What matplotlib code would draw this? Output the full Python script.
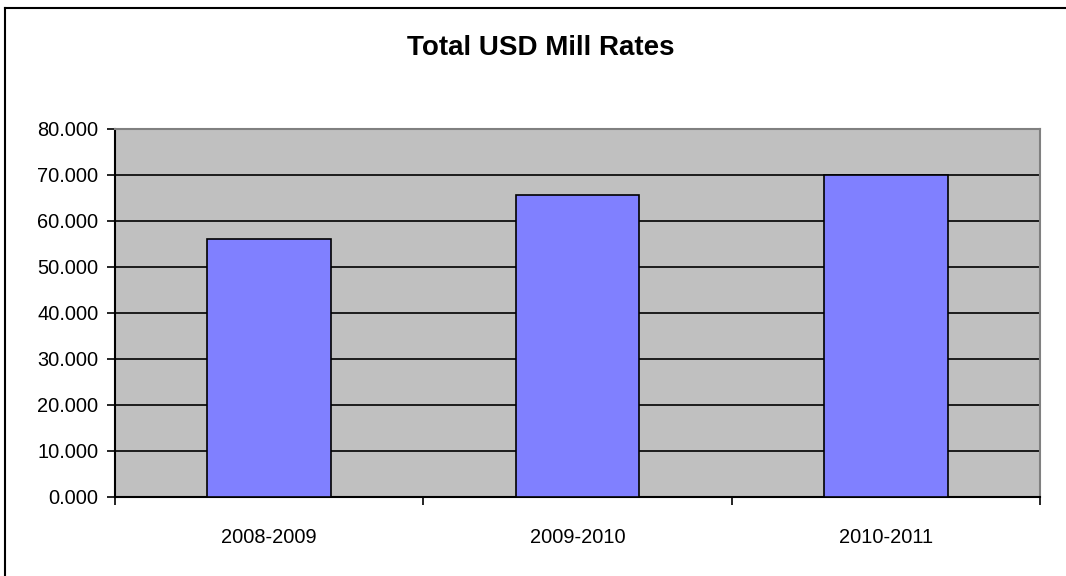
import numpy as np
import matplotlib
matplotlib.use("Agg")
import matplotlib.pyplot as plt
from matplotlib.lines import Line2D

plt.rcParams['font.family'] = ['Liberation Sans', 'DejaVu Sans']

seasons = ['2008-2009', '2009-2010', '2010-2011']
mill_rates = [56.1, 65.6, 70.1]
y_ticks = [0, 10, 20, 30, 40, 50, 60, 70, 80]

fig = plt.figure(figsize=(10.66, 5.76), dpi=100)
fig.patch.set_facecolor('white')

# outer chart border, only left and top edges are inside the picture
bx, by = 4.5 / 1066, 1 - 7.5 / 576
fig.lines.append(Line2D([bx, bx], [0, by], transform=fig.transFigure,
                        color='black', linewidth=1.5))
fig.lines.append(Line2D([bx, 1], [by, by], transform=fig.transFigure,
                        color='black', linewidth=1.5))

ax = fig.add_axes([115 / 1066, 1 - 497 / 576, (1040 - 115) / 1066, (497 - 129) / 576])
ax.set_facecolor('#C0C0C0')

x = np.arange(len(seasons))
ax.bar(x, mill_rates, width=0.4, color='#8080FF', edgecolor='black',
       linewidth=1.2, zorder=3)

ax.set_xlim(-0.5, len(seasons) - 0.5)
ax.set_ylim(0, 80)
ax.set_yticks(y_ticks)
ax.set_yticklabels(['%.3f' % v for v in y_ticks], fontsize=14.4)
for v in y_ticks[1:-1]:
    ax.axhline(v, color='black', linewidth=1.2, zorder=1)

ax.set_xticks(np.arange(len(seasons) + 1) - 0.5)
ax.set_xticklabels([])
ax.set_xticks(x, minor=True)
ax.set_xticklabels(seasons, minor=True, fontsize=14.4)
ax.tick_params(axis='x', which='minor', length=0, pad=22)
ax.tick_params(axis='x', which='major', length=6, width=1.2, direction='out')
ax.tick_params(axis='y', length=6, width=1.2, direction='out', pad=6)

ax.spines['left'].set_color('black')
ax.spines['left'].set_linewidth(1.5)
ax.spines['bottom'].set_color('black')
ax.spines['bottom'].set_linewidth(1.5)
ax.spines['top'].set_color('#808080')
ax.spines['top'].set_linewidth(1.5)
ax.spines['right'].set_color('#808080')
ax.spines['right'].set_linewidth(1.5)

fig.text(541 / 1066, 1 - 48 / 576, 'Total USD Mill Rates', fontsize=20,
         fontweight='bold', ha='center', va='center')

fig.savefig('out.png', dpi=100)
